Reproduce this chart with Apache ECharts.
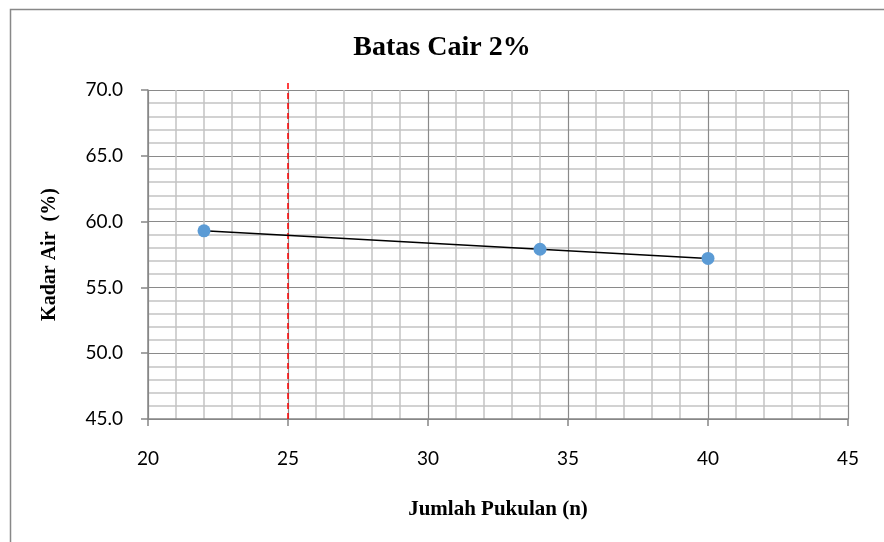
<!DOCTYPE html>
<html>
<head>
<meta charset="utf-8">
<script src="https://cdn.jsdelivr.net/npm/echarts@6/dist/echarts.min.js"></script>
<style>html,body{margin:0;padding:0;background:#fff}#c{width:884px;height:542px}</style>
</head>
<body>
<div id="c"></div>
<script>
const titleText = 'Batas Cair 2%';
const xName = 'Jumlah Pukulan (n)';
const yName = 'Kadar Air  (%)';
const blows = [22, 34, 40];
const waterContent = [59.3, 57.9, 57.2];
const refX = [25, 25];
const refY = [45, 70.7];
const xTicks = [20, 25, 30, 35, 40, 45];
const yTicks = [45, 50, 55, 60, 65, 70];

const chart = echarts.init(document.getElementById('c'), null, {renderer: 'canvas'});
const labelFont = 'Lato, "Open Sans", sans-serif';
const serif = '"Liberation Serif", "DejaVu Serif", serif';
chart.setOption({
  animation: false,
  backgroundColor: '#fff',
  graphic: [{
    type: 'rect', left: 8, top: 7, shape: {width: 900, height: 560},
    style: {fill: 'none', stroke: '#888', lineWidth: 1.5}, silent: true
  }],
  title: {
    text: titleText, left: 'center', top: 29,
    textStyle: {fontFamily: serif, fontWeight: 'bold', fontSize: 28, color: '#000'}
  },
  grid: {left: 148, top: 90, right: 36, bottom: 123},
  xAxis: {
    type: 'value', min: xTicks[0], max: xTicks[xTicks.length - 1], interval: 5,
    name: xName, nameLocation: 'middle', nameGap: 80,
    nameTextStyle: {fontFamily: serif, fontWeight: 'bold', fontSize: 21, color: '#000'},
    axisLine: {show: true, lineStyle: {color: '#868686', width: 1.5}},
    axisTick: {show: true, length: 7, lineStyle: {color: '#868686', width: 1.5}},
    minorTick: {show: false, splitNumber: 5},
    axisLabel: {fontFamily: labelFont, fontSize: 19, color: '#000', margin: 30},
    splitLine: {show: true, lineStyle: {color: '#8a8a8a', width: 1.2}},
    minorSplitLine: {show: true, lineStyle: {color: '#c4c4c4', width: 1.5}}
  },
  yAxis: {
    type: 'value', min: yTicks[0], max: yTicks[yTicks.length - 1], interval: 5,
    name: yName, nameLocation: 'middle', nameGap: 88, nameRotate: 90,
    nameTextStyle: {fontFamily: serif, fontWeight: 'bold', fontSize: 20, color: '#000'},
    axisLine: {show: true, lineStyle: {color: '#868686', width: 1.5}},
    axisTick: {show: true, length: 7, lineStyle: {color: '#868686', width: 1.5}},
    minorTick: {show: false, splitNumber: 5},
    axisLabel: {fontFamily: labelFont, fontSize: 19, color: '#000', margin: 25,
      formatter: v => v.toFixed(1)},
    splitLine: {show: true, lineStyle: {color: '#8a8a8a', width: 1.2}},
    minorSplitLine: {show: true, lineStyle: {color: '#c4c4c4', width: 1.5}}
  },
  series: [
    {
      type: 'line', data: refX.map((x, i) => [x, refY[i]]), clip: false,
      symbol: 'none', lineStyle: {color: '#ff0000', width: 1.5, type: [6, 4]}, z: 3
    },
    {
      type: 'line', data: blows.map((x, i) => [x, waterContent[i]]),
      symbol: 'circle', symbolSize: 13,
      itemStyle: {color: '#5b9bd5'},
      lineStyle: {color: '#000', width: 1.5}, z: 4
    }
  ]
});
</script>
</body>
</html>
